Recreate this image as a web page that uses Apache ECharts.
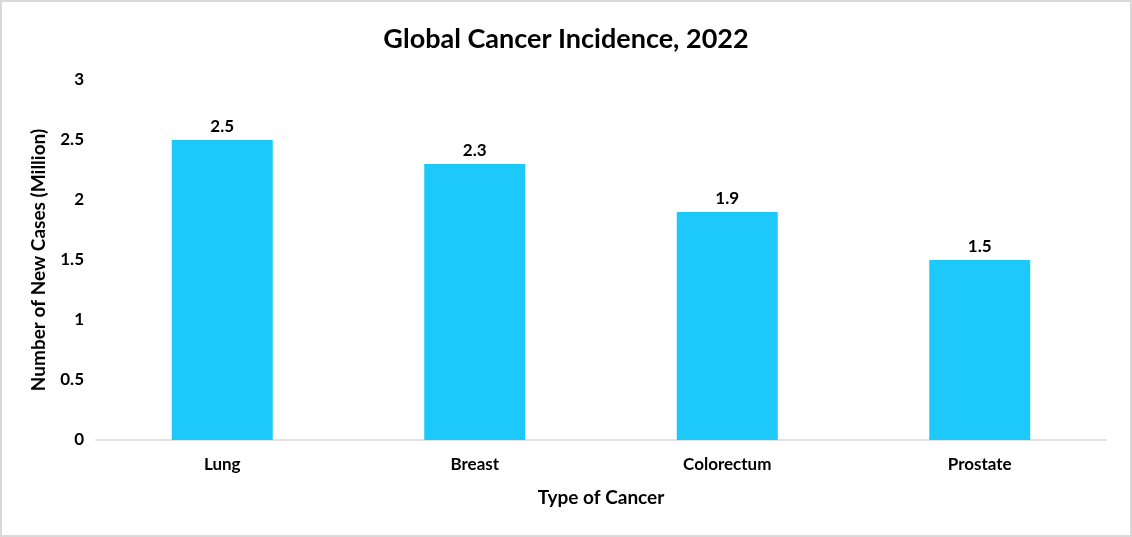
<!DOCTYPE html>
<html>
<head>
<meta charset="utf-8">
<script src="https://cdn.jsdelivr.net/npm/echarts@6/dist/echarts.min.js"></script>
<style>
  html, body { margin: 0; padding: 0; background: #fff; }
  #chart { width: 1128px; height: 533px; border: 2px solid #d9d9d9; }
</style>
</head>
<body>
<div id="chart"></div>
<script>
const cancerTypes = ['Lung', 'Breast', 'Colorectum', 'Prostate'];
const newCases = [2.5, 2.3, 1.9, 1.5];

const font = 'Lato, "Open Sans", sans-serif';

echarts.init(document.querySelector('#chart')).setOption({
    title: {
        text: 'Global Cancer Incidence, 2022',
        left: 'center',
        top: 19,
        textStyle: { fontFamily: font, fontSize: 27, fontWeight: 'bold', color: '#000' }
    },
    grid: { left: 94, right: 24, top: 78, bottom: 95 },
    xAxis: {
        type: 'category',
        data: cancerTypes,
        name: 'Type of Cancer',
        nameLocation: 'middle',
        nameGap: 48,
        nameTextStyle: { fontFamily: font, fontSize: 19, fontWeight: 'bold', color: '#000' },
        axisLine: { lineStyle: { color: '#d9d9d9', width: 1.5 } },
        axisTick: { show: false },
        axisLabel: { fontFamily: font, fontSize: 17, fontWeight: 'bold', color: '#000', margin: 16 }
    },
    yAxis: {
        type: 'value',
        min: 0,
        max: 3,
        interval: 0.5,
        name: 'Number of New Cases (Million)',
        nameLocation: 'middle',
        nameGap: 48,
        nameTextStyle: { fontFamily: font, fontSize: 19, fontWeight: 'bold', color: '#000' },
        splitLine: { show: false },
        axisLine: { show: false },
        axisTick: { show: false },
        axisLabel: { fontFamily: font, fontSize: 17, fontWeight: 'bold', color: '#000', margin: 12 }
    },
    series: [{
        type: 'bar',
        data: newCases,
        barWidth: '40%',
        itemStyle: { color: '#1DC9FB' },
        label: {
            show: true,
            position: 'top',
            distance: 5,
            fontFamily: font,
            fontSize: 17,
            fontWeight: 'bold',
            color: '#000'
        }
    }]
});
</script>
</body>
</html>
